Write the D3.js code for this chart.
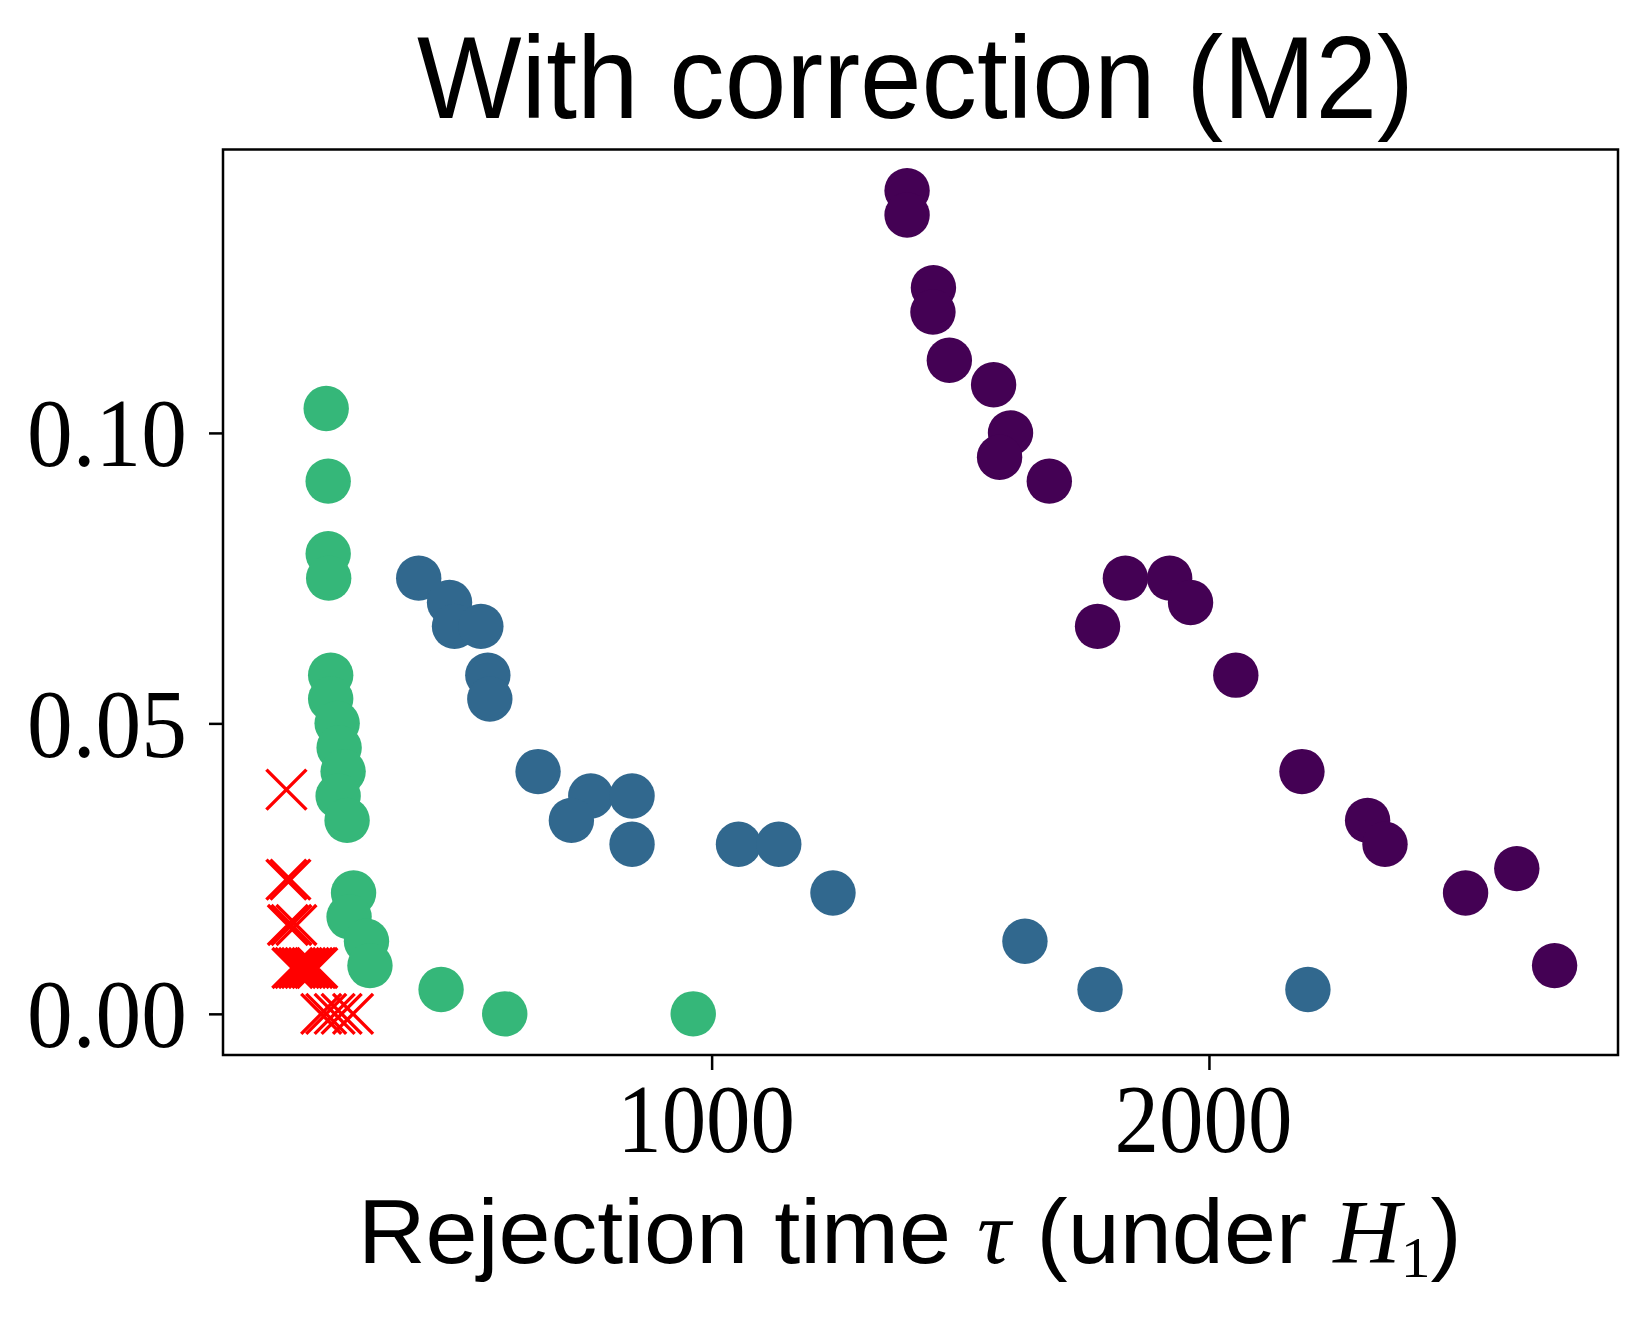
<!DOCTYPE html>
<html>
<head>
<meta charset="utf-8">
<script src="https://cdn.jsdelivr.net/npm/d3@7"></script>
<style>
  html, body { margin: 0; padding: 0; background: #ffffff; }
  svg { display: block; }
</style>
</head>
<body>
<svg id="chart" width="1648" height="1319"></svg>
<script>
// ---------------- data ----------------
const chartTitle = "With correction (M2)";

const purpleX = [1393, 1393, 1446, 1445, 1478, 1567, 1601, 1579, 1679, 1832, 1921, 1963, 1776, 2054, 2187, 2319, 2354, 2516, 2619, 2695];
const purpleY = [0.1417, 0.1375, 0.1250, 0.1208, 0.1125, 0.1083, 0.1000, 0.0958, 0.0917, 0.0750, 0.0750, 0.0708, 0.0667, 0.0583, 0.0417, 0.0333, 0.0292, 0.0208, 0.0250, 0.0083];

const blueX = [411, 473, 483, 536, 550, 554, 651, 757, 718, 840, 840, 1054, 1135, 1244, 1630, 1781, 2199];
const blueY = [0.0750, 0.0708, 0.0667, 0.0667, 0.0583, 0.0542, 0.0417, 0.0375, 0.0333, 0.0375, 0.0292, 0.0292, 0.0292, 0.0208, 0.0125, 0.0042, 0.0042];

const greenX = [225, 229, 229, 230, 234, 234, 247, 251, 259, 249, 267, 280, 271, 306, 313, 456, 584, 963];
const greenY = [0.1042, 0.0917, 0.0792, 0.0750, 0.0583, 0.0542, 0.0500, 0.0458, 0.0417, 0.0375, 0.0333, 0.0208, 0.0167, 0.0125, 0.0083, 0.0042, 0.0000, 0.0000];

const redX = [145, 145, 153, 148, 155, 165, 157, 163, 170, 176, 183, 190, 197, 203, 207, 215, 225, 242, 256, 279];
const redY = [0.0386, 0.0231, 0.0231, 0.0153, 0.0153, 0.0153, 0.0079, 0.0079, 0.0079, 0.0079, 0.0079, 0.0079, 0.0079, 0.0079, 0.0079, 0.0000, 0.0000, 0.0000, 0.0000, 0.0000];

const xTickValues = [1000, 2000];
const xTickLabels = ["1000", "2000"];
const yTickValues = [0.00, 0.05, 0.10];
const yTickLabels = ["0.00", "0.05", "0.10"];

// ---------------- layout ----------------
const svg = d3.select("#chart");
const plot = { left: 223, right: 1618, top: 149.5, bottom: 1055 };

const allX = [...purpleX, ...blueX, ...greenX, ...redX];
const allY = [...purpleY, ...blueY, ...greenY, ...redY];
const pad = (lo, hi) => { const m = (hi - lo) * 0.05; return [lo - m, hi + m]; };

const x = d3.scaleLinear().domain(pad(d3.min(allX), d3.max(allX))).range([plot.left, plot.right]);
const y = d3.scaleLinear().domain(pad(d3.min(allY), d3.max(allY))).range([plot.bottom, plot.top]);

// horizontal fit of a text node about an anchor x
function hfit(node, targetW, anchorX, shift) {
  const w = node.getBBox().width;
  const s = targetW / w;
  node.setAttribute("transform", `translate(${anchorX + (shift || 0)},0) scale(${s},1) translate(${-anchorX},0)`);
}

// ---------------- marks ----------------
const zip = (xs, ys) => xs.map((v, i) => ({ x: v, y: ys[i] }));
const series = [
  { data: zip(purpleX, purpleY), color: "#440154" },
  { data: zip(blueX, blueY), color: "#31688e" },
  { data: zip(greenX, greenY), color: "#35b779" }
];

const marks = svg.append("g");
series.forEach(s => {
  marks.append("g").selectAll("circle").data(s.data).join("circle")
    .attr("cx", d => x(d.x)).attr("cy", d => y(d.y)).attr("r", 22.7)
    .attr("fill", s.color);
});

const ar = 20;
marks.append("g").selectAll("path").data(zip(redX, redY)).join("path")
  .attr("d", d => {
    const cx = x(d.x), cy = y(d.y);
    return `M${cx - ar},${cy - ar}L${cx + ar},${cy + ar}M${cx - ar},${cy + ar}L${cx + ar},${cy - ar}`;
  })
  .attr("stroke", "#ff0000").attr("stroke-width", 3.4).attr("fill", "none");

// ---------------- axes ----------------
const tickFont = "'Liberation Serif', 'DejaVu Serif', serif";

const gx = svg.append("g").attr("transform", `translate(0,${plot.bottom})`)
  .call(d3.axisBottom(x).tickValues(xTickValues).tickFormat((d, i) => xTickLabels[i]).tickSize(15).tickSizeOuter(0));
gx.select(".domain").remove();
gx.selectAll(".tick line").attr("stroke", "#000").attr("stroke-width", 2.5);
gx.selectAll(".tick text")
  .attr("y", 97).attr("dy", 0)
  .attr("font-family", tickFont).attr("font-size", 97).attr("fill", "#000")
  .each(function () { hfit(this, 178, 0, -6); });

const gy = svg.append("g").attr("transform", `translate(${plot.left},0)`)
  .call(d3.axisLeft(y).tickValues(yTickValues).tickFormat((d, i) => yTickLabels[i]).tickSize(14).tickPadding(22).tickSizeOuter(0));
gy.select(".domain").remove();
gy.selectAll(".tick line").attr("stroke", "#000").attr("stroke-width", 2.5);
gy.selectAll(".tick text")
  .attr("dy", 33)
  .attr("font-family", tickFont).attr("font-size", 97).attr("fill", "#000")
  .each(function () { hfit(this, 160, -36, 0); });

// frame
svg.append("rect")
  .attr("x", plot.left).attr("y", plot.top)
  .attr("width", plot.right - plot.left).attr("height", plot.bottom - plot.top)
  .attr("fill", "none").attr("stroke", "#000").attr("stroke-width", 2.5);

// ---------------- texts ----------------
const sansFont = "'Liberation Sans Narrow', 'Liberation Sans', 'DejaVu Sans', sans-serif";
const mathFont = "'Liberation Serif', 'DejaVu Serif', serif";

const title = svg.append("text")
  .attr("x", 417).attr("y", 118)
  .attr("font-family", sansFont).attr("font-size", 116).attr("fill", "#000")
  .text(chartTitle);
hfit(title.node(), 997, 417, 0);

const xl = svg.append("text")
  .attr("x", 358).attr("y", 1263)
  .attr("font-family", sansFont).attr("font-size", 91).attr("fill", "#000");
xl.append("tspan").text("Rejection time ");
xl.append("tspan").attr("font-family", mathFont).attr("font-style", "italic").text("\u03C4");
xl.append("tspan").text(" (under ");
xl.append("tspan").attr("font-family", mathFont).attr("font-style", "italic").text("H");
xl.append("tspan").attr("font-family", mathFont).attr("font-size", 58).attr("dy", 14).text("1");
xl.append("tspan").attr("dy", -14).text(")");
hfit(xl.node(), 1104, 358, 0);
</script>
</body>
</html>
